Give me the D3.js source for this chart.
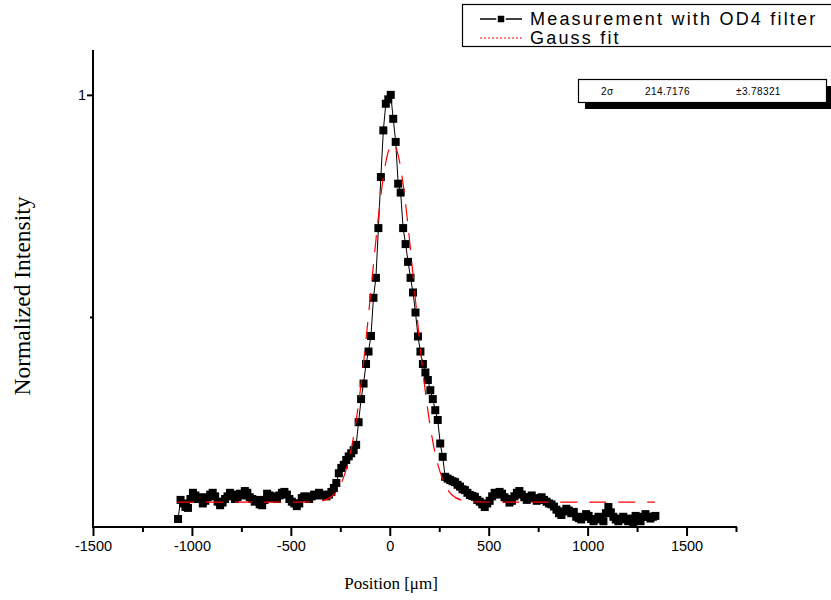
<!DOCTYPE html>
<html>
<head>
<meta charset="utf-8">
<script src="https://cdn.jsdelivr.net/npm/d3@7/dist/d3.min.js"></script>
<style>
  body { margin: 0; background: #fff; }
  text { fill: #000; }
</style>
</head>
<body>
<div id="chart"></div>
<script>
// measured positions (um) and normalized intensity
const positions = [
  -1070, -1057.5, -1045, -1032.5, -1020, -1007.5, -995, -982.5, -970, -957.5,
  -945, -932.5, -920, -907.5, -895, -882.5, -870, -857.5, -845, -832.5,
  -820, -807.5, -795, -782.5, -770, -757.5, -745, -732.5, -720, -707.5,
  -695, -682.5, -670, -657.5, -645, -632.5, -620, -607.5, -595, -582.5,
  -570, -557.5, -545, -532.5, -520, -507.5, -495, -482.5, -470, -457.5,
  -445, -432.5, -420, -407.5, -395, -382.5, -370, -357.5, -345, -332.5,
  -320, -307.5, -295, -282.5, -270, -257.5, -245, -232.5, -220, -207.5,
  -195, -182.5, -170, -157.5, -145, -132.5, -120, -107.5, -95, -82.5,
  -70, -57.5, -45, -32.5, -20, -7.5, 5, 17.5, 30, 42.5,
  55, 67.5, 80, 92.5, 105, 117.5, 130, 142.5, 155, 167.5,
  180, 192.5, 205, 217.5, 230, 242.5, 255, 267.5, 280, 292.5,
  305, 317.5, 330, 342.5, 355, 367.5, 380, 392.5, 405, 417.5,
  430, 442.5, 455, 467.5, 480, 492.5, 505, 517.5, 530, 542.5,
  555, 567.5, 580, 592.5, 605, 617.5, 630, 642.5, 655, 667.5,
  680, 692.5, 705, 717.5, 730, 742.5, 755, 767.5, 780, 792.5,
  805, 817.5, 830, 842.5, 855, 867.5, 880, 892.5, 905, 917.5,
  930, 942.5, 955, 967.5, 980, 992.5, 1005, 1017.5, 1030, 1042.5,
  1055, 1067.5, 1080, 1092.5, 1105, 1117.5, 1130, 1142.5, 1155, 1167.5,
  1180, 1192.5, 1205, 1217.5, 1230, 1242.5, 1255, 1267.5, 1280, 1292.5,
  1305, 1317.5, 1330, 1342.5
];
const intensity = [
  0.045, 0.088, 0.080, 0.072, 0.070, 0.090, 0.104, 0.098, 0.090, 0.094,
  0.080, 0.086, 0.094, 0.100, 0.104, 0.096, 0.084, 0.076, 0.082, 0.090,
  0.096, 0.104, 0.100, 0.090, 0.094, 0.102, 0.098, 0.108, 0.104, 0.094,
  0.090, 0.084, 0.088, 0.078, 0.076, 0.088, 0.102, 0.098, 0.092, 0.096,
  0.090, 0.098, 0.104, 0.106, 0.100, 0.090, 0.084, 0.080, 0.074, 0.080,
  0.092, 0.096, 0.094, 0.090, 0.096, 0.100, 0.098, 0.104, 0.100, 0.098,
  0.096, 0.100, 0.106, 0.115, 0.126, 0.148, 0.160, 0.167, 0.178, 0.186,
  0.193, 0.200, 0.212, 0.263, 0.315, 0.350, 0.394, 0.422, 0.457, 0.543,
  0.588, 0.700, 0.815, 0.920, 0.980, 0.990, 1.000, 0.946, 0.894, 0.800,
  0.780, 0.700, 0.664, 0.624, 0.588, 0.555, 0.510, 0.456, 0.422, 0.394,
  0.375, 0.358, 0.335, 0.315, 0.290, 0.268, 0.215, 0.185, 0.140, 0.136,
  0.133, 0.130, 0.128, 0.122, 0.118, 0.112, 0.110, 0.104, 0.099, 0.097,
  0.095, 0.088, 0.084, 0.078, 0.072, 0.080, 0.086, 0.096, 0.104, 0.100,
  0.106, 0.102, 0.094, 0.090, 0.082, 0.086, 0.096, 0.104, 0.108, 0.100,
  0.094, 0.088, 0.094, 0.098, 0.092, 0.086, 0.090, 0.094, 0.088, 0.084,
  0.080, 0.078, 0.073, 0.066, 0.058, 0.054, 0.062, 0.068, 0.064, 0.058,
  0.061, 0.050, 0.047, 0.044, 0.050, 0.056, 0.052, 0.045, 0.040, 0.044,
  0.050, 0.046, 0.040, 0.058, 0.072, 0.060, 0.050, 0.044, 0.040, 0.046,
  0.050, 0.044, 0.040, 0.046, 0.036, 0.052, 0.046, 0.040, 0.050, 0.056,
  0.050, 0.046, 0.050, 0.052
];

// Gauss fit
const fitPositions = [
  -1075, -600, -405, -335, -285, -260, -235, -210, -185, -160, -135, -110,
  -85, -60, -35, -10, 15, 40, 65, 90, 115, 140, 165, 190, 215, 240, 265,
  290, 315, 365, 415, 640, 1340
];
const fitValues = [
  0.083, 0.083, 0.0835, 0.087, 0.099, 0.113, 0.137, 0.173, 0.2255, 0.297, 0.387, 0.493,
  0.606, 0.7155, 0.807, 0.8685, 0.890, 0.8685, 0.807, 0.7155, 0.606, 0.493, 0.387, 0.297, 0.2255, 0.173, 0.137,
  0.113, 0.099, 0.087, 0.0838, 0.083, 0.083
];

const xMajor = [-1500, -1000, -500, 0, 500, 1000, 1500];
const xMinor = [-1250, -750, -250, 250, 750, 1250, 1750];
const yMajor = [1];
const yMinor = [0.5];

const statRow = ["2\u03c3", "214.7176", "\u00b13.78321"];
const legendLabels = ["Measurement with OD4 filter", "Gauss fit"];

const width = 831, height = 600;
const sans = "Liberation Sans, Arial, sans-serif";
const serif = "Liberation Serif, Times New Roman, serif";

const svg = d3.select("#chart")
    .append("svg")
    .attr("width", width)
    .attr("height", height);

const x = d3.scaleLinear()
    .domain([-1500, 1750])
    .range([93, 736]);

const y = d3.scaleLinear()
    .domain([0.027, 1.101])
    .range([527, 50]);

const measured = positions.map((p, i) => ({x: p, y: intensity[i]}));
const fit = fitPositions.map((p, i) => ({x: p, y: fitValues[i]}));

// axes: major ticks labelled, minor ticks shorter
const gx = svg.append("g")
    .attr("transform", "translate(0,527)")
    .call(d3.axisBottom(x).tickValues(xMajor).tickSize(9).tickPadding(5).tickFormat(d => String(d)));
gx.append("g")
    .call(d3.axisBottom(x).tickValues(xMinor).tickSize(5).tickFormat(""));

const gy = svg.append("g")
    .attr("transform", "translate(93,0)")
    .call(d3.axisLeft(y).tickValues(yMajor).tickSize(6).tickPadding(1).tickFormat(d => String(d)));
gy.append("g")
    .call(d3.axisLeft(y).tickValues(yMinor).tickSize(3).tickFormat(""));

svg.selectAll(".domain").remove();
gx.append("line")
    .attr("x1", 92).attr("x2", 737)
    .attr("stroke", "#000").attr("stroke-width", 2);
gy.append("line")
    .attr("y1", 50).attr("y2", 528)
    .attr("stroke", "#000").attr("stroke-width", 2);

svg.selectAll(".tick line").attr("stroke", "#000").attr("stroke-width", 2);
svg.selectAll(".tick text")
    .attr("font-family", sans)
    .attr("font-size", 14.5)
    .attr("fill", "#000");

// axis titles
svg.append("text")
    .attr("x", 391)
    .attr("y", 589)
    .attr("text-anchor", "middle")
    .attr("font-family", serif)
    .attr("font-size", 17)
    .text("Position [\u03bcm]");

svg.append("text")
    .attr("transform", "translate(30,296) rotate(-90)")
    .attr("text-anchor", "middle")
    .attr("font-family", serif)
    .attr("font-size", 23.5)
    .text("Normalized Intensity");

// measurement line + squares
const line = d3.line()
    .x(d => x(d.x))
    .y(d => y(d.y));

svg.append("path")
    .datum(measured)
    .attr("fill", "none")
    .attr("stroke", "#000")
    .attr("stroke-width", 1)
    .attr("d", line);

svg.append("g")
    .selectAll("rect")
    .data(measured)
    .enter().append("rect")
    .attr("x", d => x(d.x) - 4)
    .attr("y", d => y(d.y) - 4)
    .attr("width", 8)
    .attr("height", 8)
    .attr("fill", "#000");

// gauss fit
const fitLine = d3.line()
    .curve(d3.curveMonotoneX)
    .x(d => x(d.x))
    .y(d => y(d.y));

svg.append("path")
    .datum(fit)
    .attr("fill", "none")
    .attr("stroke", "#ff0000")
    .attr("stroke-width", 1.2)
    .attr("stroke-dasharray", "17,12")
    .attr("d", fitLine);

// legend
const legend = svg.append("g");
legend.append("rect")
    .attr("x", 462.5)
    .attr("y", 4.5)
    .attr("width", 380)
    .attr("height", 42)
    .attr("fill", "#fff")
    .attr("stroke", "#000")
    .attr("stroke-width", 1.2);

legend.append("line")
    .attr("x1", 480).attr("x2", 522)
    .attr("y1", 19).attr("y2", 19)
    .attr("stroke", "#000").attr("stroke-width", 1.3);
legend.append("rect")
    .attr("x", 497).attr("y", 15)
    .attr("width", 8).attr("height", 8)
    .attr("fill", "#000")
    .attr("stroke", "#fff").attr("stroke-width", 1.5);
legend.append("line")
    .attr("x1", 480).attr("x2", 522)
    .attr("y1", 38).attr("y2", 38)
    .attr("stroke", "#ff0000").attr("stroke-width", 1)
    .attr("stroke-dasharray", "2,2");

legend.selectAll("text.lab")
    .data(legendLabels)
    .enter().append("text")
    .attr("class", "lab")
    .attr("x", 530)
    .attr("y", (d, i) => 25 + i * 19)
    .attr("font-family", sans)
    .attr("font-size", 18)
    .attr("letter-spacing", 2.2)
    .text(d => d);

// fit parameter table with shadow
svg.append("rect")
    .attr("x", 585).attr("y", 86)
    .attr("width", 250).attr("height", 23)
    .attr("fill", "#000");
svg.append("rect")
    .attr("x", 578.5).attr("y", 79.5)
    .attr("width", 248).attr("height", 23)
    .attr("fill", "#fff")
    .attr("stroke", "#000").attr("stroke-width", 1.2);

svg.selectAll("text.stat")
    .data(statRow)
    .enter().append("text")
    .attr("class", "stat")
    .attr("x", (d, i) => [601, 645, 736][i])
    .attr("y", 95)
    .attr("font-family", sans)
    .attr("font-size", 10)
    .attr("letter-spacing", 0.4)
    .text(d => d);
</script>
</body>
</html>
